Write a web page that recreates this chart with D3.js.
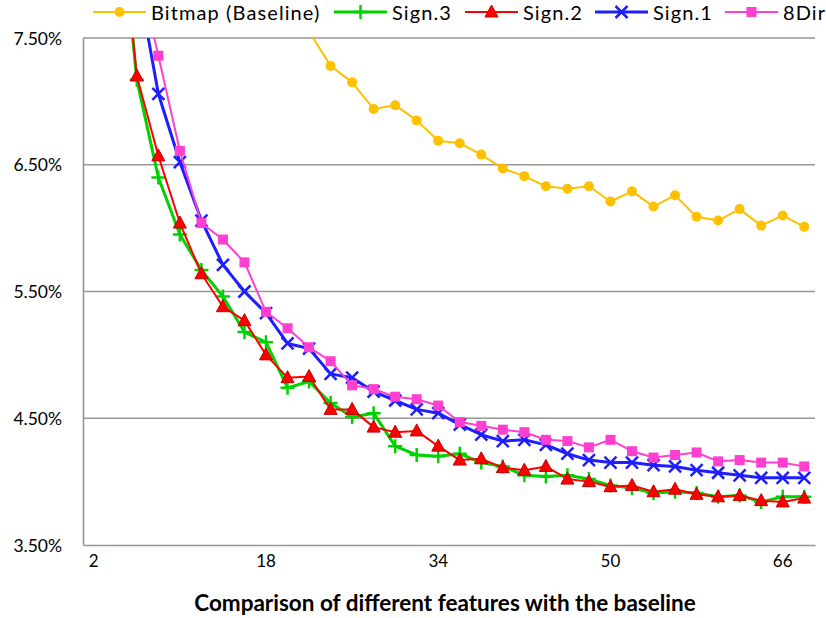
<!DOCTYPE html>
<html>
<head>
<meta charset="utf-8">
<script src="https://cdn.jsdelivr.net/npm/d3@7"></script>
<style>
  body { margin: 0; background: #fff; }
  text { font-family: Lato, "Open Sans", sans-serif; fill: #000; }
  .grid line { stroke: #969696; stroke-width: 1.6; }
  .axis path, .axis line { stroke: #969696; stroke-width: 1.6; }
</style>
</head>
<body>
<div id="chart"></div>
<script>
// Feature counts on the x axis (every second value)
var features = [2, 4, 6, 8, 10, 12, 14, 16, 18, 20, 22, 24, 26, 28, 30, 32, 34,
                36, 38, 40, 42, 44, 46, 48, 50, 52, 54, 56, 58, 60, 62, 64, 66, 68];
var xTickLabels = [2, 18, 34, 50, 66];
var yTicks = [3.5, 4.5, 5.5, 6.5, 7.5];

// Error rate (%) per series; values above 7.5% are cut off
var bitmap = [11.8, 10.6, 9.9, 9.3, 8.8, 8.45, 8.15, 7.95, 7.8, 7.68, 7.55,
              7.28, 7.15, 6.94, 6.97, 6.85, 6.69, 6.67, 6.58, 6.47, 6.41, 6.33,
              6.31, 6.33, 6.21, 6.29, 6.17, 6.26, 6.09, 6.06, 6.15, 6.02, 6.10, 6.01];
var sign3 = [11.0, 8.9, 7.17, 6.40, 5.95, 5.67, 5.46, 5.18, 5.10, 4.74, 4.79,
             4.62, 4.51, 4.54, 4.28, 4.21, 4.20, 4.22, 4.15, 4.12, 4.05, 4.04,
             4.05, 4.02, 3.97, 3.95, 3.91, 3.92, 3.91, 3.88, 3.89, 3.84, 3.88, 3.88];
var sign2 = [11.0, 8.9, 7.20, 6.57, 6.04, 5.64, 5.38, 5.27, 5.00, 4.82, 4.83,
             4.57, 4.57, 4.43, 4.39, 4.40, 4.28, 4.17, 4.18, 4.11, 4.09, 4.12,
             4.02, 4.00, 3.96, 3.97, 3.92, 3.94, 3.90, 3.88, 3.89, 3.85, 3.84, 3.87];
var sign1 = [11.5, 9.5, 8.0, 7.06, 6.52, 6.06, 5.71, 5.50, 5.33, 5.09, 5.05,
             4.85, 4.82, 4.71, 4.64, 4.57, 4.54, 4.45, 4.37, 4.32, 4.33, 4.29,
             4.22, 4.17, 4.15, 4.15, 4.13, 4.12, 4.09, 4.07, 4.05, 4.03, 4.03, 4.03];
var dir8 = [11.5, 9.6, 8.1, 7.36, 6.61, 6.04, 5.91, 5.73, 5.34, 5.21, 5.06,
            4.95, 4.76, 4.73, 4.67, 4.65, 4.60, 4.47, 4.44, 4.41, 4.39, 4.33,
            4.32, 4.27, 4.33, 4.24, 4.19, 4.21, 4.23, 4.16, 4.17, 4.15, 4.15, 4.12];

var seriesNames = ["Bitmap (Baseline)", "Sign.3", "Sign.2", "Sign.1", "8Dir"];
var seriesValues = [bitmap, sign3, sign2, sign1, dir8];
var seriesColors = ["#FFC000", "#00D200", "#FF0000", "#1E1EFF", "#FF3FCF"];
var seriesWidths = [2, 3, 2, 3, 2];
var seriesMarkers = ["circle", "plus", "triangle", "cross", "square"];

var margin = {top: 38, right: 11, bottom: 73, left: 83},
    width = 826 - margin.left - margin.right,
    height = 618 - margin.top - margin.bottom;

var xScale = d3.scaleBand()
    .domain(features)
    .range([0, width])
    .padding(0),
    yScale = d3.scaleLinear()
    .domain([3.5, 7.5])
    .range([height, 0]);

function px(d, i) { return xScale(features[i]) + xScale.bandwidth() / 2; }

var svg = d3.select("#chart").append("svg")
    .attr("width", 826)
    .attr("height", 618);

var g = svg.append("g")
    .attr("transform", "translate(" + margin.left + "," + margin.top + ")");

g.append("clipPath")
    .attr("id", "plot-clip")
  .append("rect")
    .attr("x", -2)
    .attr("y", 0)
    .attr("width", width + 4)
    .attr("height", height);

// Horizontal gridlines
g.append("g")
    .attr("class", "grid")
  .selectAll("line")
    .data(yTicks.slice(1))
  .enter().append("line")
    .attr("x1", 0)
    .attr("x2", width)
    .attr("y1", function(d) { return yScale(d); })
    .attr("y2", function(d) { return yScale(d); });

// Y axis: line plus percentage labels
var yAxis = d3.axisLeft(yScale)
    .tickValues(yTicks)
    .tickSize(0)
    .tickPadding(21)
    .tickFormat(function(d) { return d.toFixed(2) + "%"; });

g.append("g")
    .attr("class", "axis y")
    .call(yAxis)
    .call(function(s) { s.selectAll("text").style("font-size", "17.5px").attr("dy", "0.35em"); });

// X axis: only a handful of labels
var xAxis = d3.axisBottom(xScale)
    .tickValues(xTickLabels)
    .tickSize(0)
    .tickPadding(10);

g.append("g")
    .attr("class", "axis x")
    .attr("transform", "translate(0," + height + ")")
    .call(xAxis)
    .call(function(s) { s.selectAll("text").style("font-size", "17px"); });

// Axis title
svg.append("text")
    .attr("x", 445)
    .attr("y", 611)
    .attr("text-anchor", "middle")
    .style("font-size", "22.5px")
    .style("font-weight", "bold")
    .text("Comparison of different features with the baseline");

// Draws one marker of the given kind at (0,0)
function drawMarker(sel, kind, color) {
  if (kind === "circle") {
    sel.append("circle").attr("r", 5).attr("fill", color);
  } else if (kind === "square") {
    sel.append("rect").attr("x", -5).attr("y", -5).attr("width", 10).attr("height", 10)
        .attr("fill", color);
  } else if (kind === "triangle") {
    sel.append("path").attr("d", "M0,-7L6.5,5L-6.5,5Z")
        .attr("fill", color).attr("stroke", "#C00000").attr("stroke-width", 1);
  } else if (kind === "plus") {
    sel.append("path").attr("d", "M-7,0H7M0,-7V7")
        .attr("stroke", color).attr("stroke-width", 2.5).attr("fill", "none");
  } else if (kind === "cross") {
    sel.append("path").attr("d", "M-6,-6L6,6M-6,6L6,-6")
        .attr("stroke", color).attr("stroke-width", 2.5).attr("fill", "none");
  }
}

var line = d3.line()
    .x(px)
    .y(function(d) { return yScale(d); });

var plot = g.append("g").attr("clip-path", "url(#plot-clip)");

seriesValues.forEach(function(values, k) {
  var sg = plot.append("g").attr("class", "series");
  sg.append("path")
      .datum(values)
      .attr("fill", "none")
      .attr("stroke", seriesColors[k])
      .attr("stroke-width", seriesWidths[k])
      .attr("stroke-linejoin", "round")
      .attr("d", line);
  sg.selectAll(".marker")
      .data(values)
    .enter().append("g")
      .attr("class", "marker")
      .attr("transform", function(d, i) { return "translate(" + px(d, i) + "," + yScale(d) + ")"; })
      .each(function() { drawMarker(d3.select(this), seriesMarkers[k], seriesColors[k]); });
});

// Legend across the top
var legendX = [93, 334, 465, 595, 725];
var legend = svg.append("g").attr("class", "legend");
seriesNames.forEach(function(name, k) {
  var item = legend.append("g").attr("transform", "translate(" + legendX[k] + ",12)");
  item.append("line")
      .attr("x1", 0).attr("x2", 53)
      .attr("stroke", seriesColors[k])
      .attr("stroke-width", seriesWidths[k]);
  drawMarker(item.append("g").attr("transform", "translate(26.5,0)"), seriesMarkers[k], seriesColors[k]);
  item.append("text")
      .attr("x", 58)
      .attr("y", 7.5)
      .style("font-size", "20px")
      .style("letter-spacing", "1.1px")
      .text(name);
});
</script>
</body>
</html>
